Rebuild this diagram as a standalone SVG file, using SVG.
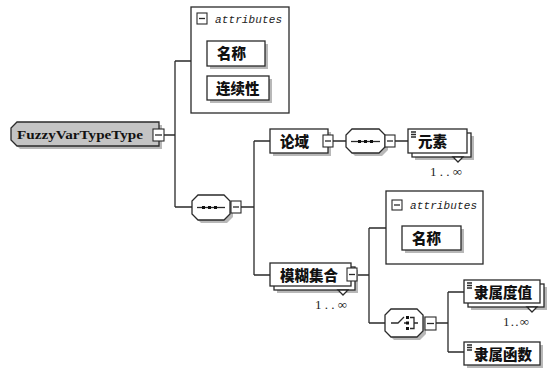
<svg xmlns="http://www.w3.org/2000/svg" width="554" height="374" viewBox="0 0 554 374">
<defs>
<style>
.bx{fill:#fff;stroke:#2a2a2a;stroke-width:1.3}
.sh{fill:#b8b8b8;stroke:none}
.ln{stroke:#2a2a2a;stroke-width:1.3;fill:none}
.cn{font-family:"Noto Sans CJK SC","Noto Sans CJK JP",sans-serif;font-weight:900;font-size:14.5px;fill:#111}
.at{font-family:"Liberation Mono",monospace;font-style:italic;font-size:11px;fill:#222}
.oc{font-family:"Liberation Serif",serif;font-size:13px;fill:#222}
.rt{font-family:"Liberation Serif",serif;font-weight:bold;font-size:13px;fill:#111}
.ex{fill:#fff;stroke:#2a2a2a;stroke-width:1.1}
.dot{fill:#111}
</style>
</defs>
<rect width="554" height="374" fill="#fff"/>

<g id="connectors" class="ln">
<path d="M164 135H175M175 61V207M175 61H191M175 207H192"/>
<path d="M241 207H254M254 141V275M254 141H270M254 275H270"/>
<path d="M333 141H346M395 141H408"/>
<path d="M357 275H369M369 228V323M369 228H386M369 323H385"/>
<path d="M436 323H448M448 292V352M448 292H464M448 352H464"/>
</g>

<g id="root">
<polygon class="sh" points="20,125 162,125 162,149 20,149 14,143 14,131"/>
<polygon points="17,122 159,122 159,146 17,146 11,140 11,128" fill="#c4c4c4" stroke="#2a2a2a" stroke-width="1.3"/>
<text class="rt" x="17" y="139" textLength="126" lengthAdjust="spacingAndGlyphs">FuzzyVarTypeType</text>
<rect class="ex" x="153" y="129" width="11" height="12"/>
<line class="ln" x1="155" y1="135" x2="162" y2="135"/>
</g>

<g id="attributes1">
<rect class="bx" x="191" y="7" width="98" height="106"/>
<rect class="ex" x="197" y="13" width="10" height="11"/>
<line class="ln" x1="199" y1="18.5" x2="205" y2="18.5"/>
<text class="at" x="215" y="23" textLength="67">attributes</text>
</g>
<g id="attr-mingcheng1">
<rect class="sh" x="210" y="44" width="58" height="25"/>
<rect class="bx" x="207" y="41" width="58" height="25"/>
<text class="cn" x="217" y="59">名称</text>
</g>
<g id="attr-lianxuxing">
<rect class="sh" x="210" y="79" width="62" height="24"/>
<rect class="bx" x="207" y="76" width="62" height="24"/>
<text class="cn" x="216" y="94">连续性</text>
</g>

<g id="seq1">
<polygon class="sh" points="201,198 227,198 233,204 233,217 227,223 201,223 195,217 195,204"/>
<polygon class="bx" points="198,195 224,195 230,201 230,214 224,220 198,220 192,214 192,201"/>
<line class="ln" x1="197" y1="207.5" x2="225" y2="207.5"/>
<rect class="dot" x="202" y="206" width="3" height="3"/>
<rect class="dot" x="208" y="206" width="3" height="3"/>
<rect class="dot" x="214" y="206" width="3" height="3"/>
<rect class="ex" x="231" y="201" width="10" height="12"/>
<line class="ln" x1="233" y1="207" x2="239" y2="207"/>
</g>

<g id="luntu">
<rect class="sh" x="273" y="132" width="58" height="24"/>
<rect class="bx" x="270" y="129" width="58" height="24"/>
<text class="cn" x="280" y="147">论域</text>
<rect class="ex" x="323" y="135" width="10" height="12"/>
<line class="ln" x1="325" y1="141" x2="331" y2="141"/>
</g>

<g id="seq2">
<polygon class="sh" points="355,132 382,132 388,138 388,150 382,156 355,156 349,150 349,138"/>
<polygon class="bx" points="352,129 379,129 385,135 385,147 379,153 352,153 346,147 346,135"/>
<line class="ln" x1="351" y1="141.5" x2="380" y2="141.5"/>
<rect class="dot" x="358" y="140" width="3" height="3"/>
<rect class="dot" x="364" y="140" width="3" height="3"/>
<rect class="dot" x="370" y="140" width="3" height="3"/>
<rect class="ex" x="385" y="135" width="10" height="12"/>
<line class="ln" x1="387" y1="141" x2="393" y2="141"/>
</g>

<g id="yuansu">
<rect class="sh" x="415" y="136" width="59" height="24"/>
<rect class="bx" x="412" y="133" width="59" height="24"/>
<rect class="bx" x="408" y="129" width="59" height="24"/>
<path class="ln" d="M411 132H416M411 134.5H416M411 137H416" stroke-width="1"/>
<text class="cn" x="418" y="147">元素</text>
<polygon class="bx" points="453,157 463,157 458,162" stroke-width="1"/>
<text class="oc" x="430" y="176" textLength="32">1..∞</text>
</g>

<g id="attributes2">
<rect class="bx" x="386" y="191" width="97" height="73"/>
<rect class="ex" x="392" y="200" width="10" height="10"/>
<line class="ln" x1="394" y1="205" x2="400" y2="205"/>
<text class="at" x="410" y="209" textLength="67">attributes</text>
</g>
<g id="attr-mingcheng2">
<rect class="sh" x="405" y="229" width="59" height="24"/>
<rect class="bx" x="402" y="226" width="59" height="24"/>
<text class="cn" x="412" y="244">名称</text>
</g>

<g id="mohujihe">
<rect class="sh" x="277" y="270" width="81" height="23"/>
<rect class="bx" x="274" y="267" width="81" height="23"/>
<rect class="bx" x="270" y="263" width="81" height="23"/>
<text class="cn" x="280" y="281">模糊集合</text>
<polygon class="bx" points="338,290 348,290 343,295" stroke-width="1"/>
<rect class="ex" x="347" y="268" width="10" height="13"/>
<line class="ln" x1="349" y1="274.5" x2="355" y2="274.5"/>
<text class="oc" x="315" y="309" textLength="32">1..∞</text>
</g>

<g id="choice">
<polygon class="sh" points="394,312 420,312 426,318 426,334 420,340 394,340 388,334 388,318"/>
<polygon class="bx" points="391,309 417,309 423,315 423,331 417,337 391,337 385,331 385,315"/>
<path class="ln" d="M391 323H398L404 317M404 323H407" stroke-width="1.2"/>
<rect class="dot" x="406" y="316" width="3" height="3"/>
<rect class="dot" x="406" y="321.5" width="3" height="3"/>
<rect class="dot" x="406" y="327" width="3" height="3"/>
<path class="ln" d="M410 317.5H414V328.5H410M414 323H418" stroke-width="1.1"/>
<rect class="ex" x="425" y="317" width="11" height="13"/>
<line class="ln" x1="427" y1="323.5" x2="434" y2="323.5"/>
</g>

<g id="lishuduzhi">
<rect class="sh" x="471" y="287" width="76" height="23"/>
<rect class="bx" x="468" y="284" width="76" height="23"/>
<rect class="bx" x="464" y="280" width="76" height="23"/>
<path class="ln" d="M467 283H472M467 285.5H472M467 288H472" stroke-width="1"/>
<text class="cn" x="474" y="298">隶属度值</text>
<polygon class="bx" points="527,307 537,307 532,312" stroke-width="1"/>
<text class="oc" x="503" y="326" textLength="26">1..∞</text>
</g>

<g id="lishuhanshu">
<rect class="sh" x="467" y="345" width="76" height="23"/>
<rect class="bx" x="464" y="342" width="76" height="23"/>
<path class="ln" d="M467 345H472M467 347.5H472M467 350H472" stroke-width="1"/>
<text class="cn" x="474" y="360">隶属函数</text>
</g>
</svg>
